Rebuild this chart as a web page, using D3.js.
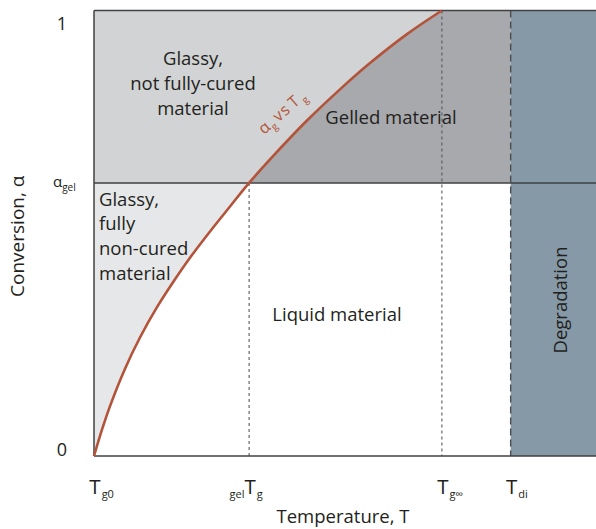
<!DOCTYPE html>
<html>
<head>
<meta charset="utf-8">
<script src="https://cdn.jsdelivr.net/npm/d3@7"></script>
<style>
  html, body { margin: 0; padding: 0; background: #fff; }
  svg { display: block; }
  text { font-family: "Open Sans", "Noto Sans", sans-serif; fill: #231f20; }
</style>
</head>
<body>
<svg id="chart" width="596" height="529"></svg>
<script>
// Temperature axis in arbitrary units, conversion axis 0..1
const tempDomain = [0, 100];
const alphaDomain = [0, 1];

// Characteristic temperatures: Tg0, gelTg, Tg∞, Tdi
const tickTemps = [0, 30.9, 69.3, 83];
const tickPre = ["", "gel", "", ""];
const tickSub = ["g0", "g", "g\u221E", "di"];

// Conversion at gelation
const alphaGel = 0.613;

// Glass transition curve: alpha_g against T_g
const curveT = [0, 1.59, 3.19, 6.18, 9.16, 12.55, 15.74, 19.12, 23.11, 27.09, 30.9, 35.66, 42.43, 49.0, 54.98, 62.35, 69.3];
const curveA = [0, 0.059, 0.112, 0.196, 0.266, 0.334, 0.390, 0.445, 0.504, 0.560, 0.613, 0.673, 0.753, 0.823, 0.882, 0.947, 1.0];

// Region names
const upperGlassyLines = ["Glassy,", "not fully-cured", "material"];
const lowerGlassyLines = ["Glassy,", "fully", "non-cured", "material"];
const gelledLabel = "Gelled material";
const liquidLabel = "Liquid material";
const degradationLabel = "Degradation";

const svg = d3.select("#chart");
const margin = { left: 94, right: 0, top: 10.5, bottom: 73 };
const W = 596, H = 529;

const x = d3.scaleLinear().domain(tempDomain).range([margin.left, W - margin.right]);
const y = d3.scaleLinear().domain(alphaDomain).range([H - margin.bottom, margin.top]);

const pts = curveT.map((t, i) => ({ t, a: curveA[i] }));
const gelTg = tickTemps[1], TgInf = tickTemps[2], Tdi = tickTemps[3];

const defs = svg.append("defs");
defs.append("clipPath").attr("id", "clipTop").append("rect")
  .attr("x", x(0)).attr("y", y(1))
  .attr("width", x(Tdi) - x(0)).attr("height", y(alphaGel) - y(1));
defs.append("clipPath").attr("id", "clipBottom").append("rect")
  .attr("x", x(0)).attr("y", y(alphaGel))
  .attr("width", x(Tdi) - x(0)).attr("height", y(0) - y(alphaGel));

// Gelled band (above alpha_gel, below T_di)
svg.append("rect")
  .attr("x", x(0)).attr("y", y(1))
  .attr("width", x(Tdi) - x(0)).attr("height", y(alphaGel) - y(1))
  .attr("fill", "#a7a9ac");

// Glassy region: everything left of the curve
const line = d3.line().x(d => x(d.t)).y(d => y(d.a)).curve(d3.curveCatmullRom);
const glassPath = line(pts) + `L${x(0)},${y(1)}L${x(0)},${y(0)}Z`;

svg.append("path")
  .attr("d", glassPath)
  .attr("clip-path", "url(#clipTop)")
  .attr("fill", "#d1d3d4");
svg.append("path")
  .attr("d", glassPath)
  .attr("clip-path", "url(#clipBottom)")
  .attr("fill", "#e6e7e8");

// Degradation zone
svg.append("rect")
  .attr("x", x(Tdi)).attr("y", y(1))
  .attr("width", x(tempDomain[1]) - x(Tdi)).attr("height", y(0) - y(1))
  .attr("fill", "#8599a6");

// Dashed guides
svg.append("line")
  .attr("x1", x(gelTg)).attr("x2", x(gelTg))
  .attr("y1", y(alphaGel)).attr("y2", y(0))
  .attr("stroke", "#58595b").attr("stroke-width", 1.1).attr("stroke-dasharray", "3,3");
svg.append("line")
  .attr("x1", x(TgInf)).attr("x2", x(TgInf))
  .attr("y1", y(1)).attr("y2", y(0))
  .attr("stroke", "#58595b").attr("stroke-width", 1.1).attr("stroke-dasharray", "3,3");
svg.append("line")
  .attr("x1", x(Tdi)).attr("x2", x(Tdi))
  .attr("y1", y(1)).attr("y2", y(0))
  .attr("stroke", "#4d4d4f").attr("stroke-width", 1.4).attr("stroke-dasharray", "7,4");

// Frame: top, gel line, bottom, left
const frameColor = "#414042";
[1, alphaGel, 0].forEach(a => {
  svg.append("line").attr("x1", x(0)).attr("x2", W).attr("y1", y(a)).attr("y2", y(a))
    .attr("stroke", frameColor).attr("stroke-width", 1.5);
});
svg.append("line").attr("x1", x(0)).attr("x2", x(0)).attr("y1", y(1)).attr("y2", y(0))
  .attr("stroke", frameColor).attr("stroke-width", 1.5);

// Glass transition curve
svg.append("path").datum(pts)
  .attr("d", line)
  .attr("fill", "none")
  .attr("stroke", "#b3533a")
  .attr("stroke-width", 2.6);

// Curve label
const curveLabel = svg.append("text")
  .attr("transform", "translate(264,135) rotate(-41)")
  .attr("font-size", 16)
  .style("fill", "#b3533a")
  .style("letter-spacing", "1px");
curveLabel.append("tspan").text("\u03B1");
curveLabel.append("tspan").attr("font-size", 10).attr("dy", 4).text("g");
curveLabel.append("tspan").attr("dy", -4).attr("dx", 2).text("vs");
curveLabel.append("tspan").attr("dx", 3).text("T");
curveLabel.append("tspan").attr("font-size", 10).attr("dy", 4).attr("dx", 2).text("g");

// Y tick labels
svg.append("text").attr("x", 62).attr("y", y(1) + 19).attr("text-anchor", "middle")
  .attr("font-size", 18).text("1");
svg.append("text").attr("x", 62).attr("y", y(0) - 0.5).attr("text-anchor", "middle")
  .attr("font-size", 18).text("0");
const ag = svg.append("text").attr("x", 53).attr("y", y(alphaGel) + 4).attr("font-size", 15);
ag.append("tspan").text("\u03B1");
ag.append("tspan").attr("font-size", 10).attr("dy", 4).text("gel");

// Y axis title
svg.append("text")
  .attr("transform", `translate(24,${(y(0) + y(1)) / 2 + 3}) rotate(-90)`)
  .attr("text-anchor", "middle")
  .attr("font-size", 19)
  .text("Conversion,  \u03B1");

// X tick labels: the "T" sits over its temperature
tickTemps.forEach((t, i) => {
  const g = svg.append("text").attr("y", 494).attr("font-size", 20.5);
  if (tickPre[i]) {
    g.append("tspan").attr("font-size", 11).attr("dy", 4).text(tickPre[i]);
    g.append("tspan").attr("dy", -4).text("T");
  } else {
    g.append("tspan").text("T");
  }
  g.append("tspan").attr("font-size", 11).attr("dy", 4).attr("dx", 1).text(tickSub[i]);
  const spans = g.selectAll("tspan").nodes();
  const preW = tickPre[i] ? spans[0].getComputedTextLength() : 0;
  const tW = spans[tickPre[i] ? 1 : 0].getComputedTextLength();
  g.attr("x", x(t) + 1 - preW - tW / 2);
});

// X axis title
svg.append("text")
  .attr("x", (x(0) + W) / 2 - 2).attr("y", 523)
  .attr("text-anchor", "middle")
  .attr("font-size", 18.5)
  .text("Temperature, T");

// Region labels
const fs = 18.5;
const upper = svg.append("text").attr("text-anchor", "middle").attr("font-size", fs);
upperGlassyLines.forEach((s, i) => {
  upper.append("tspan").attr("x", 193).attr("y", 65 + i * 25).text(s);
});
const lower = svg.append("text").attr("font-size", fs);
lowerGlassyLines.forEach((s, i) => {
  lower.append("tspan").attr("x", 99).attr("y", 205.5 + i * 24.7).text(s);
});
svg.append("text").attr("x", 391).attr("y", 124).attr("text-anchor", "middle")
  .attr("font-size", fs).text(gelledLabel);
svg.append("text").attr("x", 337).attr("y", 321).attr("text-anchor", "middle")
  .attr("font-size", fs).text(liquidLabel);
svg.append("text")
  .attr("transform", `translate(567,300) rotate(-90)`)
  .attr("text-anchor", "middle")
  .attr("font-size", fs).text(degradationLabel);
</script>
</body>
</html>
